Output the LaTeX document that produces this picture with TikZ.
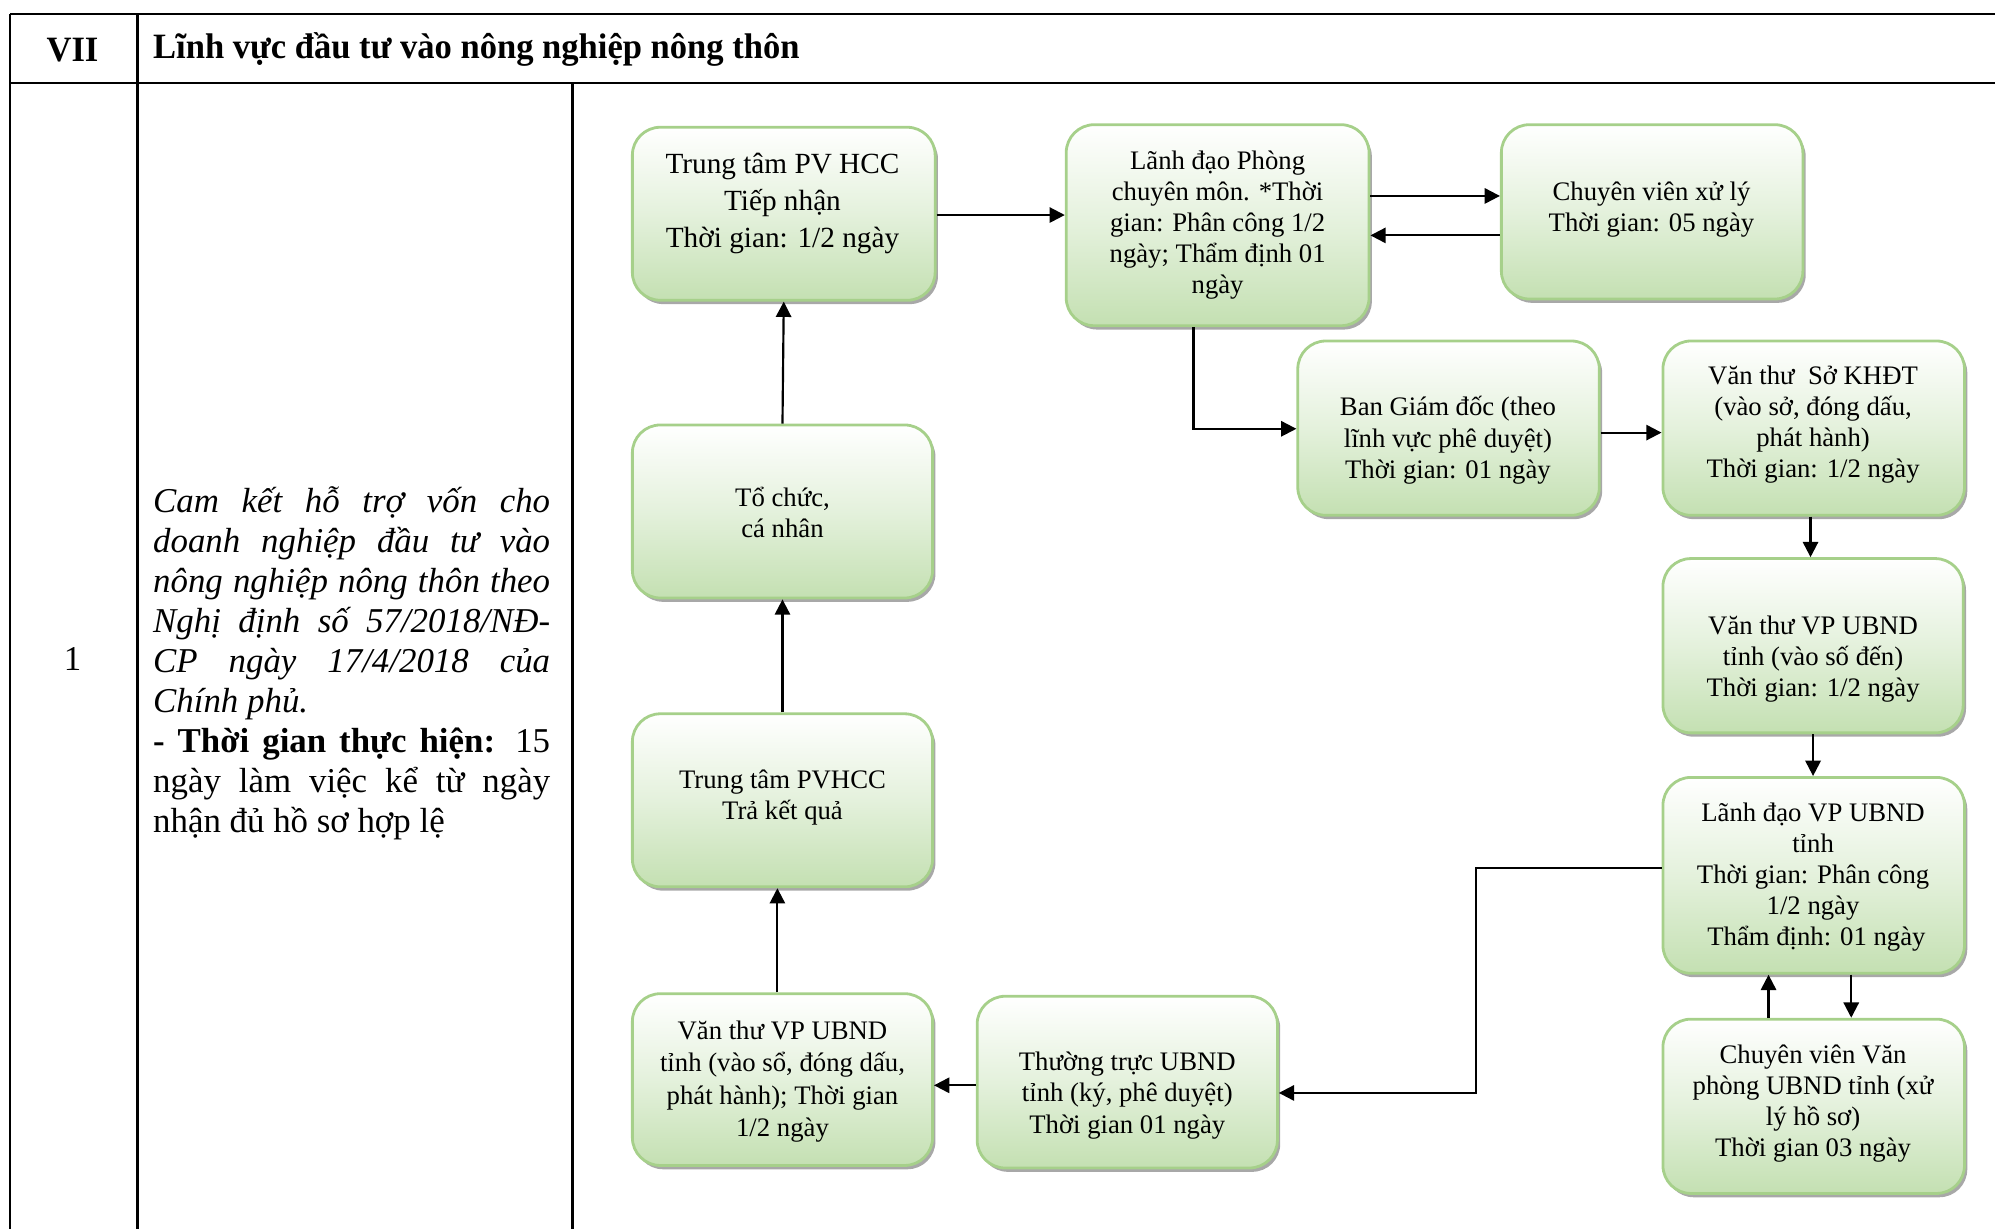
\documentclass[tikz,border=0pt]{standalone}
\usepackage{fontspec}
\setmainfont{Liberation Serif}
\newfontfamily\headfont[FakeStretch=0.97]{Liberation Serif}
\usetikzlibrary{arrows.meta,shadows}
\definecolor{boxgreen}{RGB}{196,224,178}
\definecolor{boxmid}{RGB}{228,241,220}
\definecolor{boxborder}{RGB}{166,208,138}
\begin{document}
\begin{tikzpicture}[x=0.5pt,y=-0.5pt,
  tbl/.style={line width=0.9pt},
  flowbox/.style={draw=boxborder, line width=1.1pt, rounded corners=11pt,
    top color=white, bottom color=boxgreen, middle color=boxmid,
    inner sep=0pt,
    drop shadow={shadow xshift=1.1pt, shadow yshift=-1.5pt, fill=black!40, opacity=0.85}},
  boxtext/.style={align=center, inner sep=0pt, font=\fontsize{10.5}{12.2}\selectfont},
  arr/.style={line width=0.85pt, -{Triangle[length=6pt,width=6pt]}}
]
\useasboundingbox (0,0) rectangle (1568,966);

% ---------- table ----------
\draw[tbl] (8,11) -- (1568,11);
\draw[tbl] (8,65) -- (1568,65);
\draw[tbl] (8,11) -- (8,966);
\draw[tbl] (108,11) -- (108,966);
\draw[tbl] (450,65) -- (450,966);

\node[inner sep=0pt, font=\headfont\bfseries\fontsize{14}{16}\selectfont] (hnum) at (57,39) {VII};
\node[inner sep=0pt, anchor=west, font=\headfont\bfseries\fontsize{14}{16}\selectfont] (htitle) at (120,39) {Lĩnh vực đầu tư vào nông nghiệp nông thôn};
\node[inner sep=0pt, font=\fontsize{13.7}{15.7}\selectfont] (rownum) at (57,518) {1};

\node[inner sep=0pt, anchor=base west, align=left, font=\fontsize{13.7}{15.7}\selectfont] (desc) at (120,654) {%
\makebox[156pt][s]{\itshape Cam kết hỗ trợ vốn cho}\\
\makebox[156pt][s]{\itshape doanh nghiệp đầu tư vào}\\
\makebox[156pt][s]{\itshape nông nghiệp nông thôn theo}\\
\makebox[156pt][s]{\itshape Nghị định số 57/2018/NĐ-}\\
\makebox[156pt][s]{\itshape CP ngày 17/4/2018 của}\\
\makebox[156pt][l]{\itshape Chính phủ.}\\
\makebox[156pt][s]{\textbf{- Thời gian thực hiện:} 15}\\
\makebox[156pt][s]{ngày làm việc kể từ ngày}\\
\makebox[156pt][l]{nhận đủ hồ sơ hợp lệ}};

% ---------- boxes ----------
\node[flowbox, minimum width=119pt, minimum height=68pt] (b1) at (616,168) {};
\node[flowbox, minimum width=119pt, minimum height=79pt] (b2) at (957,177) {};
\node[flowbox, minimum width=118.5pt, minimum height=68.5pt] (b3) at (1298.5,166.5) {};
\node[flowbox, minimum width=118.5pt, minimum height=68.5pt] (b4) at (1138.5,336.5) {};
\node[flowbox, minimum width=118.5pt, minimum height=68.5pt] (b5) at (1425.5,336.5) {};
\node[flowbox, minimum width=118pt, minimum height=68.5pt] (b6) at (1425,507.5) {};
\node[flowbox, minimum width=118.5pt, minimum height=77pt] (b7) at (1425.5,688) {};
\node[flowbox, minimum width=118.5pt, minimum height=68.5pt] (b8) at (1425.5,869.5) {};
\node[flowbox, minimum width=118pt, minimum height=67.5pt] (b9) at (886,850.5) {};
\node[flowbox, minimum width=118pt, minimum height=67.5pt] (b10) at (615,848.5) {};
\node[flowbox, minimum width=118pt, minimum height=68pt] (b11) at (615,629) {};
\node[flowbox, minimum width=118pt, minimum height=68pt] (b12) at (615,402) {};

% ---------- box texts ----------
\node[boxtext, font=\fontsize{11.5}{14.5}\selectfont] (t1) at (615,160) {Trung tâm PV HCC\\Tiếp nhận\\Thời gian: 1/2 ngày};
\node[boxtext] (t2) at (957,177) {Lãnh đạo Phòng\\chuyên môn. *Thời\\gian: Phân công 1/2\\ngày; Thẩm định 01\\ngày};
\node[boxtext] (t3) at (1298,164.5) {Chuyên viên xử lý\\Thời gian: 05 ngày};
\node[boxtext] (t4) at (1138,346) {Ban Giám đốc (theo\\lĩnh vực phê duyệt)\\Thời gian: 01 ngày};
\node[boxtext] (t5) at (1425,334) {Văn thư\ \ Sở KHĐT\\(vào sở, đóng dấu,\\phát hành)\\Thời gian: 1/2 ngày};
\node[boxtext] (t6) at (1425,518) {Văn thư VP UBND\\tỉnh (vào số đến)\\Thời gian: 1/2 ngày};
\node[boxtext] (t7) at (1425,689.5) {Lãnh đạo VP UBND\\tỉnh\\Thời gian: Phân công\\1/2 ngày\\\ Thẩm định: 01 ngày};
\node[boxtext] (t8) at (1425,867.5) {Chuyên viên Văn\\phòng UBND tỉnh (xử\\lý hồ sơ)\\Thời gian 03 ngày};
\node[boxtext, font=\fontsize{10.5}{12.4}\selectfont] (t9) at (886,861) {Thường trực UBND\\tỉnh (ký, phê duyệt)\\Thời gian 01 ngày};
\node[boxtext, font=\fontsize{10.5}{12.8}\selectfont] (t10) at (615,850) {Văn thư VP UBND\\tỉnh (vào sổ, đóng dấu,\\phát hành); Thời gian\\1/2 ngày};
\node[boxtext] (t11) at (615,627) {Trung tâm PVHCC\\Trả kết quả};
\node[boxtext] (t12) at (615,403) {Tổ chức,\\cá nhân};

% ---------- connectors ----------
\draw[arr] (b1.east |- 0,169) -- (b2.west |- 0,169);
\draw[arr] (b2.east |- 0,154) -- (b3.west |- 0,154);
\draw[arr] (b3.west |- 0,185) -- (b2.east |- 0,185);
\draw[arr] (b2.south -| 938,0) -- (938,337) -- (b4.west |- 0,337);
\draw[arr] (b4.east |- 0,340) -- (b5.west |- 0,340);
\draw[arr] (b5.south -| 1423,0) -- (b6.north -| 1423,0);
\draw[arr] (b6.south -| 1425,0) -- (b7.north -| 1425,0);
\draw[arr] (b7.south -| 1455,0) -- (b8.north -| 1455,0);
\draw[arr] (b8.north -| 1390,0) -- (b7.south -| 1390,0);
\draw[arr] (b7.west |- 0,682) -- (1160,682) -- (1160,859) -- (b9.east |- 0,859);
\draw[arr] (b9.west |- 0,853) -- (b10.east |- 0,853);
\draw[arr] (b10.north -| 611,0) -- (b11.south -| 611,0);
\draw[arr] (b11.north) -- (b12.south);
\draw[arr] (b12.north) -- (b1.south);
\end{tikzpicture}
\end{document}
